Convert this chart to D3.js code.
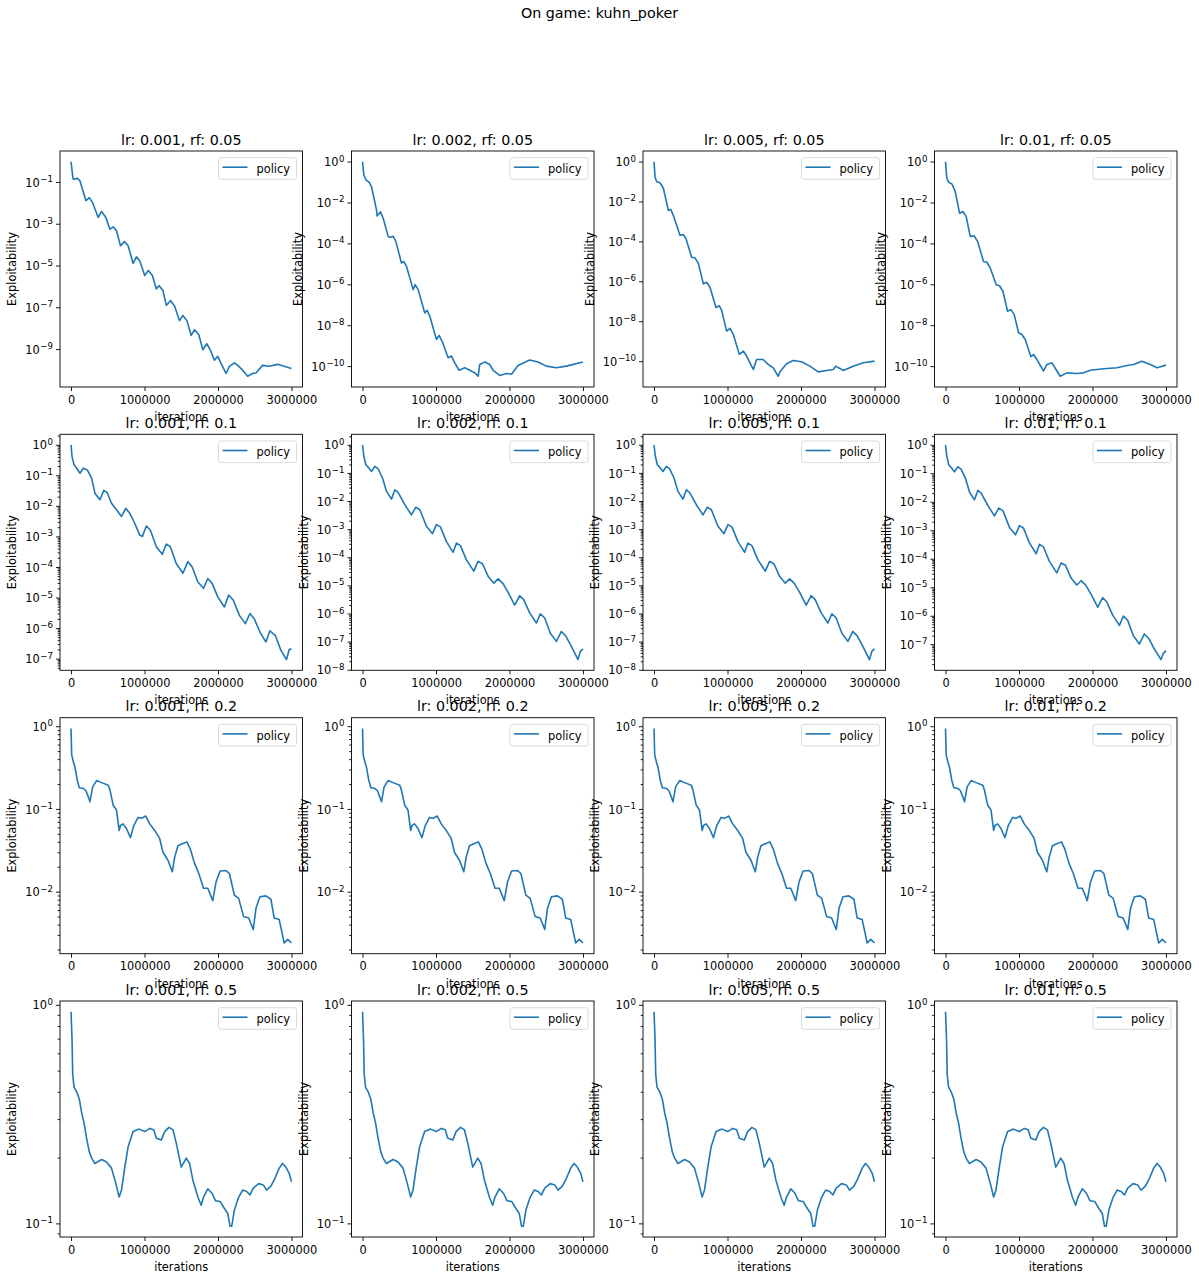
<!DOCTYPE html>
<html><head><meta charset="utf-8">
<script src="https://cdn.jsdelivr.net/npm/d3@7"></script>
<style>
body{margin:0;background:#fff;}
svg{display:block;}
text{font-family:"DejaVu Sans",sans-serif;fill:#000;}
</style>
</head><body>
<svg id="chart" width="1199" height="1282"></svg>
<script>
const suptitle = "On game: kuhn_poker";
const learningRates = ["0.001", "0.002", "0.005", "0.01"];
const resetFactors = ["0.05", "0.1", "0.2", "0.5"];
const seriesName = "policy";
const xTickValues = [0, 1000000, 2000000, 3000000];
const xTickLabels = ["0", "1000000", "2000000", "3000000"];
const xLabel = "iterations";
const yLabel = "Exploitability";

// [iteration, exploitability]
const r1c1 = [[0,9.3e-1],[23e3,1.9e-1],[32e3,1.35e-1],[86e3,1.48e-1],[122e3,1.12e-1],[203e3,1.26e-2],[248e3,1.78e-2],[294e3,1.02e-2],[370e3,2.0e-3],[416e3,3.9e-3],[474e3,2.0e-3],[529e3,5.5e-4],[574e3,7.1e-4],[619e3,4.6e-4],[673e3,8.9e-5],[727e3,1.4e-4],[777e3,8.9e-5],[845e3,1.26e-5],[890e3,2.6e-5],[935e3,1.7e-5],[1003e3,3.3e-6],[1053e3,5.8e-6],[1107e3,3.3e-6],[1161e3,7.6e-7],[1197e3,1.1e-6],[1251e3,6.3e-7],[1297e3,1.23e-7],[1355e3,2.1e-7],[1410e3,1.12e-7],[1477e3,2.3e-8],[1523e3,4.1e-8],[1577e3,2.3e-8],[1636e3,4.5e-9],[1681e3,8.5e-9],[1739e3,4.9e-9],[1794e3,9.3e-10],[1848e3,1.8e-9],[1898e3,8.7e-10],[1952e3,2.9e-10],[1997e3,4.5e-10],[2042e3,2.0e-10],[2110e3,6.8e-11],[2155e3,1.5e-10],[2223e3,2.2e-10],[2268e3,1.66e-10],[2336e3,9.8e-11],[2404e3,5.0e-11],[2471e3,6.8e-11],[2517e3,7.2e-11],[2607e3,1.66e-10],[2697e3,1.5e-10],[2810e3,1.86e-10],[2901e3,1.5e-10],[3000e3,1.17e-10]];
const r1c2 = [[0,9.8e-1],[18e3,2.2e-1],[45e3,1.28e-1],[91e3,9.5e-2],[122e3,6.0e-2],[190e3,4.4e-3],[199e3,2.2e-3],[245e3,3.5e-3],[281e3,1.7e-3],[349e3,2.2e-4],[371e3,2.0e-4],[417e3,2.2e-4],[453e3,1.26e-4],[530e3,1.1e-5],[562e3,1.3e-5],[598e3,7.6e-6],[689e3,5.5e-7],[716e3,9.6e-7],[757e3,5.5e-7],[847e3,4.0e-8],[879e3,5.4e-8],[915e3,2.8e-8],[1006e3,2.0e-9],[1042e3,3.2e-9],[1088e3,1.5e-9],[1165e3,2.6e-10],[1210e3,3.1e-10],[1255e3,1.45e-10],[1314e3,6.3e-11],[1391e3,8.3e-11],[1459e3,6.3e-11],[1527e3,4.7e-11],[1573e3,3.2e-11],[1595e3,1.2e-10],[1663e3,1.58e-10],[1731e3,1.2e-10],[1777e3,6.3e-11],[1867e3,3.5e-11],[1958e3,4.4e-11],[2026e3,4.0e-11],[2117e3,1.07e-10],[2275e3,2.0e-10],[2388e3,1.58e-10],[2502e3,1.0e-10],[2638e3,8.3e-11],[2774e3,1.0e-10],[3000e3,1.58e-10]];
const r1c3 = [[0,9.8e-1],[14e3,1.7e-1],[36e3,9.8e-2],[82e3,8.7e-2],[127e3,4.6e-2],[195e3,3.6e-3],[227e3,4.0e-3],[263e3,2.0e-3],[353e3,2.0e-4],[399e3,2.2e-4],[435e3,1.35e-4],[512e3,1.6e-5],[557e3,1.5e-5],[603e3,8.1e-6],[671e3,7.4e-7],[716e3,8.9e-7],[761e3,5.0e-7],[843e3,4.9e-8],[888e3,5.9e-8],[920e3,3.6e-8],[988e3,3.2e-9],[1033e3,4.4e-9],[1079e3,2.2e-9],[1160e3,2.2e-10],[1215e3,3.2e-10],[1260e3,1.8e-10],[1351e3,3.8e-11],[1396e3,1.2e-10],[1486e3,1.2e-10],[1554e3,6.8e-11],[1622e3,4.6e-11],[1690e3,1.74e-11],[1713e3,2.9e-11],[1804e3,7.4e-11],[1894e3,1.07e-10],[2008e3,9.3e-11],[2121e3,5.6e-11],[2234e3,2.9e-11],[2348e3,3.4e-11],[2438e3,3.8e-11],[2474e3,5.6e-11],[2529e3,4.3e-11],[2574e3,3.4e-11],[2710e3,5.6e-11],[2846e3,8.3e-11],[3000e3,1.0e-10]];
const r1c4 = [[0,9.8e-1],[18e3,1.5e-1],[45e3,9.5e-2],[86e3,8.1e-2],[132e3,3.5e-2],[191e3,3.0e-3],[236e3,3.6e-3],[281e3,2.1e-3],[336e3,2.2e-4],[390e3,2.3e-4],[436e3,1.26e-4],[517e3,1.3e-5],[563e3,1.2e-5],[608e3,6.3e-6],[690e3,9.6e-7],[735e3,8.5e-7],[781e3,4.6e-7],[844e3,4.8e-8],[890e3,5.8e-8],[935e3,3.3e-8],[994e3,4.3e-9],[1039e3,3.5e-9],[1085e3,2.0e-9],[1162e3,2.9e-10],[1198e3,3.7e-10],[1244e3,2.1e-10],[1334e3,5.8e-11],[1380e3,1.2e-10],[1448e3,1.45e-10],[1516e3,5.8e-11],[1561e3,3.2e-11],[1652e3,4.7e-11],[1788e3,4.4e-11],[1879e3,4.7e-11],[1970e3,6.3e-11],[2151e3,7.4e-11],[2333e3,8.3e-11],[2469e3,1.07e-10],[2560e3,1.2e-10],[2673e3,1.74e-10],[2787e3,1.2e-10],[2878e3,8.3e-11],[3000e3,1.12e-10]];
const r2c1 = [[0,9.8e-1],[14e3,4.1e-1],[41e3,2.2e-1],[77e3,1.7e-1],[122e3,1.17e-1],[167e3,1.7e-1],[221e3,1.5e-1],[280e3,8.1e-2],[325e3,2.6e-2],[393e3,1.58e-2],[447e3,3.2e-2],[492e3,2.7e-2],[551e3,1.22e-2],[619e3,7.4e-3],[687e3,4.5e-3],[745e3,8.3e-3],[800e3,5.7e-3],[867e3,2.7e-3],[935e3,1.1e-3],[971e3,1.0e-3],[1026e3,2.2e-3],[1080e3,1.6e-3],[1161e3,4.6e-4],[1242e3,2.6e-4],[1297e3,5.6e-4],[1351e3,4.6e-4],[1432e3,1.3e-4],[1523e3,6.2e-5],[1590e3,1.5e-4],[1649e3,1.0e-4],[1726e3,3.2e-5],[1803e3,2.0e-5],[1861e3,4.2e-5],[1920e3,2.9e-5],[1997e3,1.05e-5],[2087e3,4.9e-6],[2146e3,1.2e-5],[2209e3,8.1e-6],[2291e3,2.6e-6],[2372e3,1.4e-6],[2435e3,3.0e-6],[2494e3,2.0e-6],[2571e3,7.4e-7],[2652e3,3.5e-7],[2706e3,8.1e-7],[2779e3,5.8e-7],[2855e3,1.9e-7],[2932e3,9.3e-8],[2968e3,1.95e-7],[3000e3,2.1e-7]];
const r2c2 = [[0,9.8e-1],[18e3,3.9e-1],[45e3,1.95e-1],[77e3,1.6e-1],[122e3,1.12e-1],[168e3,1.7e-1],[213e3,1.38e-1],[272e3,6.6e-2],[326e3,2.2e-2],[394e3,1.17e-2],[440e3,2.5e-2],[485e3,2.0e-2],[576e3,7.4e-3],[666e3,3.2e-3],[725e3,6.0e-3],[780e3,4.9e-3],[870e3,1.26e-3],[952e3,6.9e-4],[1006e3,1.45e-3],[1060e3,1.2e-3],[1142e3,3.6e-4],[1233e3,1.5e-4],[1278e3,3.2e-4],[1332e3,2.6e-4],[1414e3,8.1e-5],[1514e3,3.2e-5],[1573e3,7.1e-5],[1632e3,5.9e-5],[1709e3,2.1e-5],[1786e3,1.2e-5],[1845e3,1.7e-5],[1912e3,1.15e-5],[1985e3,5.4e-6],[2071e3,2.0e-6],[2139e3,4.3e-6],[2193e3,3.1e-6],[2275e3,1.05e-6],[2366e3,4.6e-7],[2420e3,9.8e-7],[2479e3,6.9e-7],[2556e3,2.0e-7],[2638e3,1.02e-7],[2706e3,2.3e-7],[2765e3,1.6e-7],[2842e3,6.8e-8],[2932e3,2.3e-8],[2964e3,4.5e-8],[3000e3,5.5e-8]];
const r2c4 = [[0,9.8e-1],[18e3,3.9e-1],[45e3,1.95e-1],[77e3,1.6e-1],[122e3,1.12e-1],[168e3,1.7e-1],[213e3,1.38e-1],[272e3,6.6e-2],[326e3,2.2e-2],[394e3,1.17e-2],[440e3,2.5e-2],[485e3,2.0e-2],[576e3,7.4e-3],[666e3,3.2e-3],[725e3,6.0e-3],[780e3,4.9e-3],[870e3,1.26e-3],[952e3,6.9e-4],[1006e3,1.45e-3],[1060e3,1.2e-3],[1142e3,3.6e-4],[1233e3,1.5e-4],[1278e3,3.2e-4],[1332e3,2.6e-4],[1414e3,8.1e-5],[1514e3,3.2e-5],[1573e3,7.1e-5],[1632e3,5.9e-5],[1709e3,2.1e-5],[1786e3,1.2e-5],[1845e3,1.7e-5],[1912e3,1.15e-5],[1985e3,5.4e-6],[2071e3,2.0e-6],[2139e3,4.3e-6],[2193e3,3.1e-6],[2275e3,1.05e-6],[2366e3,4.6e-7],[2420e3,9.8e-7],[2479e3,6.9e-7],[2556e3,2.0e-7],[2638e3,1.02e-7],[2706e3,2.3e-7],[2765e3,1.6e-7],[2842e3,6.8e-8],[2932e3,2.9e-8],[2964e3,4.8e-8],[3000e3,6.0e-8]];
const r3 = [[0,9.4e-1],[9e3,4.5e-1],[32e3,3.7e-1],[54e3,3.2e-1],[86e3,2.2e-1],[113e3,1.8e-1],[167e3,1.77e-1],[203e3,1.66e-1],[235e3,1.4e-1],[258e3,1.22e-1],[294e3,1.85e-1],[348e3,2.2e-1],[416e3,2.08e-1],[506e3,1.94e-1],[529e3,1.7e-1],[574e3,1.11e-1],[619e3,9.7e-2],[655e3,5.5e-2],[673e3,6.3e-2],[709e3,6.6e-2],[754e3,5.8e-2],[809e3,4.5e-2],[854e3,6.3e-2],[913e3,7.9e-2],[958e3,7.7e-2],[1017e3,8.2e-2],[1071e3,6.6e-2],[1139e3,5.5e-2],[1206e3,4.4e-2],[1251e3,3.0e-2],[1319e3,2.4e-2],[1378e3,1.74e-2],[1410e3,2.6e-2],[1455e3,3.6e-2],[1514e3,3.8e-2],[1577e3,4.0e-2],[1622e3,3.3e-2],[1681e3,2.2e-2],[1739e3,1.66e-2],[1803e3,1.1e-2],[1861e3,1.1e-2],[1929e3,7.8e-3],[1974e3,1.32e-2],[2029e3,1.78e-2],[2110e3,1.8e-2],[2155e3,1.66e-2],[2223e3,9.1e-3],[2282e3,8.3e-3],[2349e3,5.0e-3],[2417e3,4.8e-3],[2480e3,3.5e-3],[2517e3,6.3e-3],[2571e3,8.7e-3],[2652e3,8.9e-3],[2720e3,8.1e-3],[2765e3,4.8e-3],[2833e3,4.6e-3],[2901e3,2.4e-3],[2950e3,2.65e-3],[3000e3,2.4e-3]];
const r4 = [[0,9.3e-1],[14e3,6.9e-1],[23e3,4.8e-1],[41e3,4.2e-1],[77e3,4.0e-1],[113e3,3.7e-1],[145e3,3.2e-1],[176e3,2.9e-1],[212e3,2.45e-1],[248e3,2.13e-1],[280e3,1.99e-1],[325e3,1.88e-1],[416e3,1.96e-1],[483e3,1.91e-1],[551e3,1.79e-1],[610e3,1.52e-1],[655e3,1.32e-1],[687e3,1.42e-1],[732e3,1.81e-1],[777e3,2.24e-1],[845e3,2.63e-1],[926e3,2.7e-1],[1003e3,2.63e-1],[1071e3,2.72e-1],[1125e3,2.68e-1],[1161e3,2.45e-1],[1229e3,2.41e-1],[1274e3,2.63e-1],[1333e3,2.75e-1],[1387e3,2.68e-1],[1432e3,2.33e-1],[1500e3,1.81e-1],[1568e3,1.99e-1],[1613e3,1.88e-1],[1658e3,1.58e-1],[1726e3,1.32e-1],[1771e3,1.21e-1],[1803e3,1.32e-1],[1861e3,1.44e-1],[1920e3,1.37e-1],[1965e3,1.27e-1],[2029e3,1.26e-1],[2087e3,1.17e-1],[2133e3,1.11e-1],[2164e3,9.7e-2],[2187e3,9.7e-2],[2223e3,1.15e-1],[2282e3,1.32e-1],[2336e3,1.42e-1],[2390e3,1.4e-1],[2435e3,1.35e-1],[2480e3,1.45e-1],[2553e3,1.52e-1],[2616e3,1.5e-1],[2661e3,1.42e-1],[2720e3,1.48e-1],[2765e3,1.58e-1],[2833e3,1.79e-1],[2878e3,1.88e-1],[2923e3,1.81e-1],[2968e3,1.7e-1],[3000e3,1.55e-1]];

const panelData = [
  [r1c1, r1c2, r1c3, r1c4],
  [r2c1, r2c2, r2c2, r2c4],
  [r3, r3, r3, r3],
  [r4, r4, r4, r4]
];

const svg = d3.select("#chart");
const colLeft = [60, 351.5, 643, 934.5];
const rowTop = [151, 434.3, 717.7, 1001];
const W = 242.5, H = 236;
const lineColor = "#1f77b4";
const tickFont = "11.4px";

svg.append("rect").attr("width", 1199).attr("height", 1282).attr("fill", "#fff");
svg.append("text").attr("x", 599.5).attr("y", 18).attr("text-anchor", "middle")
  .style("font-size", "14.3px").text(suptitle);

function styleAxis(sel) {
  sel.attr("font-size", null).attr("font-family", null);
  sel.select(".domain").remove();
  sel.selectAll(".tick line").attr("stroke", "#000").attr("stroke-width", 0.9);
}

resetFactors.forEach((rf, i) => {
  learningRates.forEach((lr, j) => {
    const data = panelData[i][j];
    const g = svg.append("g").attr("transform", `translate(${colLeft[j]},${rowTop[i]})`);

    const xe = d3.extent(data, d => d[0]);
    const xs = xe[1] - xe[0];
    const x = d3.scaleLinear().domain([xe[0] - 0.05 * xs, xe[1] + 0.05 * xs]).range([0, W]);

    const le = d3.extent(data, d => Math.log10(d[1]));
    const ls = le[1] - le[0];
    const lo = le[0] - 0.05 * ls, hi = le[1] + 0.05 * ls;
    const y = d3.scaleLog().domain([Math.pow(10, lo), Math.pow(10, hi)]).range([H, 0]);

    // matplotlib-like LogLocator (numticks = 9)
    const numdec = Math.floor(hi) - Math.ceil(lo);
    const stride = Math.max(Math.ceil(numdec / 8), 1);
    const majors = [];
    for (let e = Math.floor(lo) - stride; e <= Math.ceil(hi) + 2 * stride; e += stride) {
      if (e >= lo - 1e-9 && e <= hi + 1e-9) majors.push(e);
    }
    const minors = [];
    if (stride === 1) {
      for (let e = Math.floor(lo); e <= Math.ceil(hi); e++) {
        for (let s = 2; s <= 9; s++) {
          const v = Math.log10(s) + e;
          if (v >= lo && v <= hi) minors.push(Math.pow(10, v));
        }
      }
    }

    // minor ticks
    g.append("g").call(d3.axisLeft(y).tickValues(minors).tickSize(2.3).tickFormat(""))
      .call(styleAxis);

    // major y ticks
    const yAxisG = g.append("g")
      .call(d3.axisLeft(y).tickValues(majors.map(e => Math.pow(10, e))).tickSize(4).tickPadding(3).tickFormat(""))
      .call(styleAxis);
    yAxisG.selectAll(".tick text").each(function (d) {
      const e = Math.round(Math.log10(d));
      const t = d3.select(this).style("font-size", tickFont).attr("dy", "0.36em");
      t.text(null);
      t.append("tspan").text("10");
      t.append("tspan").attr("dy", -4.6).attr("dx", 0.6).style("font-size", "8.6px")
        .text(e < 0 ? "\u2212" + (-e) : String(e));
    });

    // x axis
    g.append("g").attr("transform", `translate(0,${H})`)
      .call(d3.axisBottom(x).tickValues(xTickValues).tickSize(4).tickPadding(4.5)
        .tickFormat((d, k) => xTickLabels[k]))
      .call(styleAxis)
      .selectAll(".tick text").style("font-size", tickFont);

    // line
    g.append("path").datum(data)
      .attr("fill", "none").attr("stroke", lineColor).attr("stroke-width", 1.6)
      .attr("stroke-linejoin", "round")
      .attr("d", d3.line().x(d => x(d[0])).y(d => y(d[1])));

    // frame
    g.append("rect").attr("width", W).attr("height", H)
      .attr("fill", "none").attr("stroke", "#000").attr("stroke-width", 0.9);

    // title
    g.append("text").attr("x", W / 2).attr("y", -6.5).attr("text-anchor", "middle")
      .style("font-size", "14.3px").text(`lr: ${lr}, rf: ${rf}`);

    // x label
    g.append("text").attr("x", W / 2).attr("y", H + 34).attr("text-anchor", "middle")
      .style("font-size", tickFont).text(xLabel);

    // y label
    const bb = yAxisG.node().getBBox();
    g.append("text").attr("transform", `translate(${bb.x - 8.8},${H / 2}) rotate(-90)`)
      .attr("text-anchor", "middle").style("font-size", tickFont).text(yLabel);

    // legend
    const lx = W - 6 - 78, ly = 6.7;
    const leg = g.append("g").attr("transform", `translate(${lx},${ly})`);
    leg.append("rect").attr("width", 78).attr("height", 21.6).attr("rx", 2.5)
      .attr("fill", "#fff").attr("fill-opacity", 0.8)
      .attr("stroke", "#cccccc").attr("stroke-opacity", 0.8).attr("stroke-width", 0.9);
    leg.append("line").attr("x1", 4).attr("x2", 29).attr("y1", 9.5).attr("y2", 9.5)
      .attr("stroke", lineColor).attr("stroke-width", 1.6);
    leg.append("text").attr("x", 38).attr("y", 15.4).style("font-size", tickFont).text(seriesName);
  });
});
</script>
</body></html>
